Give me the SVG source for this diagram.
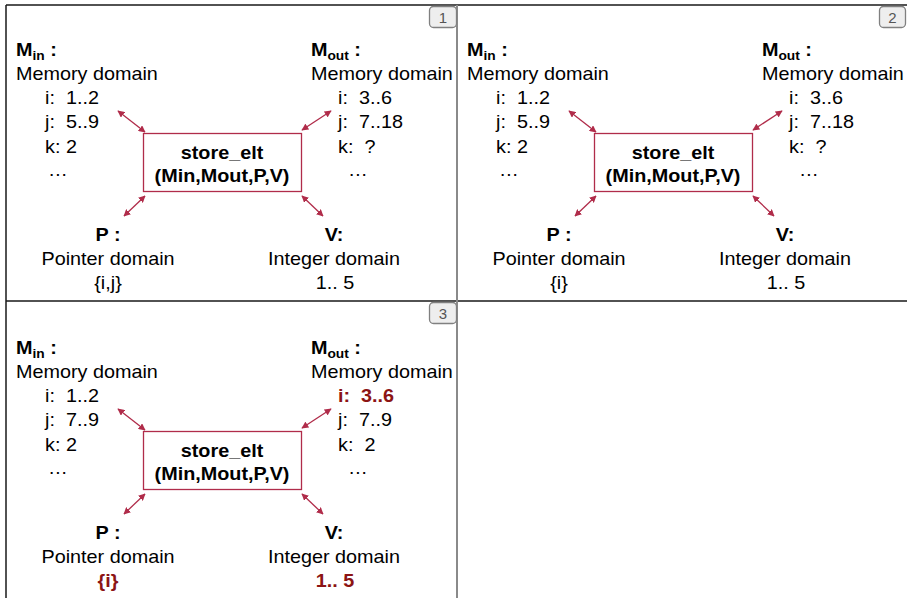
<svg xmlns="http://www.w3.org/2000/svg" width="907" height="598" viewBox="0 0 907 598">
<style>
text{font-family:"Liberation Sans",Arial,sans-serif;font-size:18px;fill:#000;white-space:pre}
.b{font-weight:bold}
.m{text-anchor:middle}
.sub{font-size:12.5px;font-weight:bold}
.hl{fill:#8c1414;font-weight:bold}
.box{fill:#fff;stroke:#b02c4a;stroke-width:1.3}
.con line{stroke:#b02c4a;stroke-width:1.3;marker-start:url(#ah);marker-end:url(#ah)}
.frame{stroke:#1a1a1a;stroke-width:1.5;fill:none}
.div{stroke:#8a8a8a;stroke-width:2;fill:none}
.badge rect{fill:#eeeeee;stroke:#808080;stroke-width:1.3}
.badge text{font-size:15px;fill:#555;text-anchor:middle}
</style>
<defs>
<marker id="ah" viewBox="0 0 10 10" refX="9" refY="5" markerWidth="7" markerHeight="7" markerUnits="userSpaceOnUse" orient="auto-start-reverse">
<path d="M0,0 L10,5 L0,10 z" fill="#b02c4a"/>
</marker>
</defs>
<rect width="907" height="598" fill="#fff"/>
<g id="frame">
<path class="frame" d="M6,5 H907 M6,5 V598 M6,301 H907"/>
<path class="div" d="M457,5 V598"/>
</g>

<g id="panel1">
<g id="p1-min">
<text class="b" transform="translate(16 55.5) scale(1.1 1)">M<tspan class="sub" dy="4">in</tspan><tspan dy="-4"> :</tspan></text>
<text transform="translate(16 80) scale(1.1 1)">Memory domain</text>
<text transform="translate(45 104) scale(1.1 1)">i:  1..2</text>
<text transform="translate(45 128) scale(1.1 1)">j:  5..9</text>
<text transform="translate(45 152.5) scale(1.1 1)">k: 2</text>
<text transform="translate(48 176) scale(1.1 1)">…</text>
</g>
<g id="p1-mout">
<text class="b" transform="translate(311 55.5) scale(1.1 1)">M<tspan class="sub" dy="4">out</tspan><tspan dy="-4"> :</tspan></text>
<text transform="translate(311 80) scale(1.1 1)">Memory domain</text>
<text transform="translate(338 104) scale(1.1 1)">i:  3..6</text>
<text transform="translate(338 128) scale(1.1 1)">j:  7..18</text>
<text transform="translate(338 152.5) scale(1.1 1)">k:  ?</text>
<text transform="translate(348 176) scale(1.1 1)">…</text>
</g>
<g id="p1-store">
<rect class="box" x="143.5" y="133.5" width="158" height="58"/>
<text class="b m" transform="translate(222 158.5) scale(1.1 1)">store_elt</text>
<text class="b m" transform="translate(222 182) scale(1.1 1)">(Min,Mout,P,V)</text>
</g>
<g id="p1-p">
<text class="b m" transform="translate(108 240.5) scale(1.1 1)">P :</text>
<text class="m" transform="translate(108 264.5) scale(1.1 1)">Pointer domain</text>
<text class="m" transform="translate(108 288.5) scale(1.1 1)">{i,j}</text>
</g>
<g id="p1-v">
<text class="b m" transform="translate(334 240.5) scale(1.1 1)">V:</text>
<text class="m" transform="translate(334 264.5) scale(1.1 1)">Integer domain</text>
<text class="m" transform="translate(335 288.5) scale(1.1 1)">1.. 5</text>
</g>
<g id="p1-connectors" class="con">
<line x1="118" y1="111" x2="145" y2="132"/>
<line x1="331" y1="111" x2="302" y2="130"/>
<line x1="145" y1="196" x2="124" y2="216"/>
<line x1="302" y1="196" x2="323" y2="216"/>
</g>
</g>

<g id="panel2" transform="translate(451 0)">
<g id="p2-min">
<text class="b" transform="translate(16 55.5) scale(1.1 1)">M<tspan class="sub" dy="4">in</tspan><tspan dy="-4"> :</tspan></text>
<text transform="translate(16 80) scale(1.1 1)">Memory domain</text>
<text transform="translate(45 104) scale(1.1 1)">i:  1..2</text>
<text transform="translate(45 128) scale(1.1 1)">j:  5..9</text>
<text transform="translate(45 152.5) scale(1.1 1)">k: 2</text>
<text transform="translate(48 176) scale(1.1 1)">…</text>
</g>
<g id="p2-mout">
<text class="b" transform="translate(311 55.5) scale(1.1 1)">M<tspan class="sub" dy="4">out</tspan><tspan dy="-4"> :</tspan></text>
<text transform="translate(311 80) scale(1.1 1)">Memory domain</text>
<text transform="translate(338 104) scale(1.1 1)">i:  3..6</text>
<text transform="translate(338 128) scale(1.1 1)">j:  7..18</text>
<text transform="translate(338 152.5) scale(1.1 1)">k:  ?</text>
<text transform="translate(348 176) scale(1.1 1)">…</text>
</g>
<g id="p2-store">
<rect class="box" x="143.5" y="133.5" width="158" height="58"/>
<text class="b m" transform="translate(222 158.5) scale(1.1 1)">store_elt</text>
<text class="b m" transform="translate(222 182) scale(1.1 1)">(Min,Mout,P,V)</text>
</g>
<g id="p2-p">
<text class="b m" transform="translate(108 240.5) scale(1.1 1)">P :</text>
<text class="m" transform="translate(108 264.5) scale(1.1 1)">Pointer domain</text>
<text class="m" transform="translate(108 288.5) scale(1.1 1)">{i}</text>
</g>
<g id="p2-v">
<text class="b m" transform="translate(334 240.5) scale(1.1 1)">V:</text>
<text class="m" transform="translate(334 264.5) scale(1.1 1)">Integer domain</text>
<text class="m" transform="translate(335 288.5) scale(1.1 1)">1.. 5</text>
</g>
<g id="p2-connectors" class="con">
<line x1="118" y1="111" x2="145" y2="132"/>
<line x1="331" y1="111" x2="302" y2="130"/>
<line x1="145" y1="196" x2="124" y2="216"/>
<line x1="302" y1="196" x2="323" y2="216"/>
</g>
</g>

<g id="panel3" transform="translate(0 298)">
<g id="p3-min">
<text class="b" transform="translate(16 55.5) scale(1.1 1)">M<tspan class="sub" dy="4">in</tspan><tspan dy="-4"> :</tspan></text>
<text transform="translate(16 80) scale(1.1 1)">Memory domain</text>
<text transform="translate(45 104) scale(1.1 1)">i:  1..2</text>
<text transform="translate(45 128) scale(1.1 1)">j:  7..9</text>
<text transform="translate(45 152.5) scale(1.1 1)">k: 2</text>
<text transform="translate(48 176) scale(1.1 1)">…</text>
</g>
<g id="p3-mout">
<text class="b" transform="translate(311 55.5) scale(1.1 1)">M<tspan class="sub" dy="4">out</tspan><tspan dy="-4"> :</tspan></text>
<text transform="translate(311 80) scale(1.1 1)">Memory domain</text>
<text class="hl" transform="translate(338 104) scale(1.1 1)">i:  3..6</text>
<text transform="translate(338 128) scale(1.1 1)">j:  7..9</text>
<text transform="translate(338 152.5) scale(1.1 1)">k:  2</text>
<text transform="translate(348 176) scale(1.1 1)">…</text>
</g>
<g id="p3-store">
<rect class="box" x="143.5" y="133.5" width="158" height="58"/>
<text class="b m" transform="translate(222 158.5) scale(1.1 1)">store_elt</text>
<text class="b m" transform="translate(222 182) scale(1.1 1)">(Min,Mout,P,V)</text>
</g>
<g id="p3-p">
<text class="b m" transform="translate(108 240.5) scale(1.1 1)">P :</text>
<text class="m" transform="translate(108 264.5) scale(1.1 1)">Pointer domain</text>
<text class="m hl" transform="translate(108 288.5) scale(1.1 1)">{i}</text>
</g>
<g id="p3-v">
<text class="b m" transform="translate(334 240.5) scale(1.1 1)">V:</text>
<text class="m" transform="translate(334 264.5) scale(1.1 1)">Integer domain</text>
<text class="m hl" transform="translate(335 288.5) scale(1.1 1)">1.. 5</text>
</g>
<g id="p3-connectors" class="con">
<line x1="118" y1="111" x2="145" y2="132"/>
<line x1="331" y1="111" x2="302" y2="130"/>
<line x1="145" y1="196" x2="124" y2="216"/>
<line x1="302" y1="196" x2="323" y2="216"/>
</g>
</g>

<g id="badge1" class="badge"><rect x="429.5" y="6.5" width="27" height="21" rx="4"/><text x="443" y="22.5">1</text></g>
<g id="badge2" class="badge"><rect x="879.5" y="6.5" width="26" height="21" rx="4"/><text x="892.5" y="22.5">2</text></g>
<g id="badge3" class="badge"><rect x="429.5" y="302.5" width="27" height="21" rx="4"/><text x="443" y="318.5">3</text></g>
</svg>
